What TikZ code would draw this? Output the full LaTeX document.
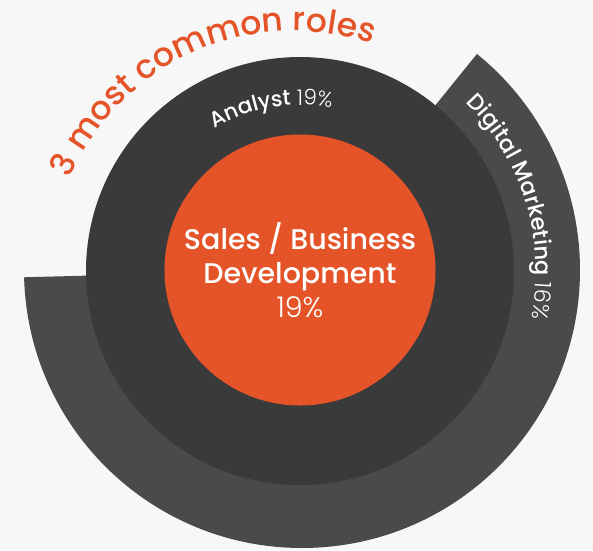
\documentclass[tikz,border=0pt]{standalone}
\usepackage{fontspec}
\setmainfont{Poppins}
\newfontfamily\lightfont{Poppins Light}
\newfontfamily\medfont{Poppins Medium}
\usetikzlibrary{decorations.text,calc}
\definecolor{bgcol}{HTML}{F7F7F7}
\definecolor{ringdark}{HTML}{3A3A3A}
\definecolor{ringgray}{HTML}{4A4A4A}
\definecolor{salesorange}{HTML}{E45428}

\begin{document}
\begin{tikzpicture}[x=1pt,y=1pt,
  arclabel/.style={decorate,decoration={text along path,text align=center,#1}}]
\fill[bgcol] (-300,-279) rectangle (293,271);
\useasboundingbox (-300,-279) rectangle (293,271);
\coordinate (c) at (0,0);
\coordinate (oc) at (2,1);
\coordinate (tc) at (-6,-4);

% outer ring, only part of it
\fill[ringgray] (oc) -- ++(-178.5:278) arc[start angle=-178.5,end angle=51,radius=278] -- cycle;
\node[circle,fill=ringdark,minimum size=428pt,inner sep=0] (analyst) at (c) {};
\node[circle,fill=salesorange,minimum size=271pt,inner sep=0,align=center,text=white,
  font=\medfont\fontsize{28.5}{34}\selectfont] (sales) at ([yshift=1]c)
  {Sales / Business\\Development\\{\lightfont 19\%}};

% texts along the rings
\path[arclabel={text={|\medfont\fontsize{33}{33}\selectfont\color{salesorange}|3 most common roles}}]
  ($(tc)+(161:244)$) arc[start angle=161,end angle=67,radius=244];
\path[arclabel={text={|\medfont\fontsize{21.5}{21.5}\selectfont\color{white}|Analyst |\lightfont\fontsize{21.5}{21.5}\selectfont\color{white}|19{\%}}}]
  ($(c)+(126:166)$) arc[start angle=126,end angle=74,radius=166];
\path[arclabel={text={|\medfont\fontsize{22.5}{22.5}\selectfont\color{white}|Digital Marketing |\lightfont\fontsize{22.5}{22.5}\selectfont\color{white}|16{\%}}}]
  ($(c)+(50:236)$) arc[start angle=50,end angle=-16,radius=236];
\end{tikzpicture}
\end{document}
